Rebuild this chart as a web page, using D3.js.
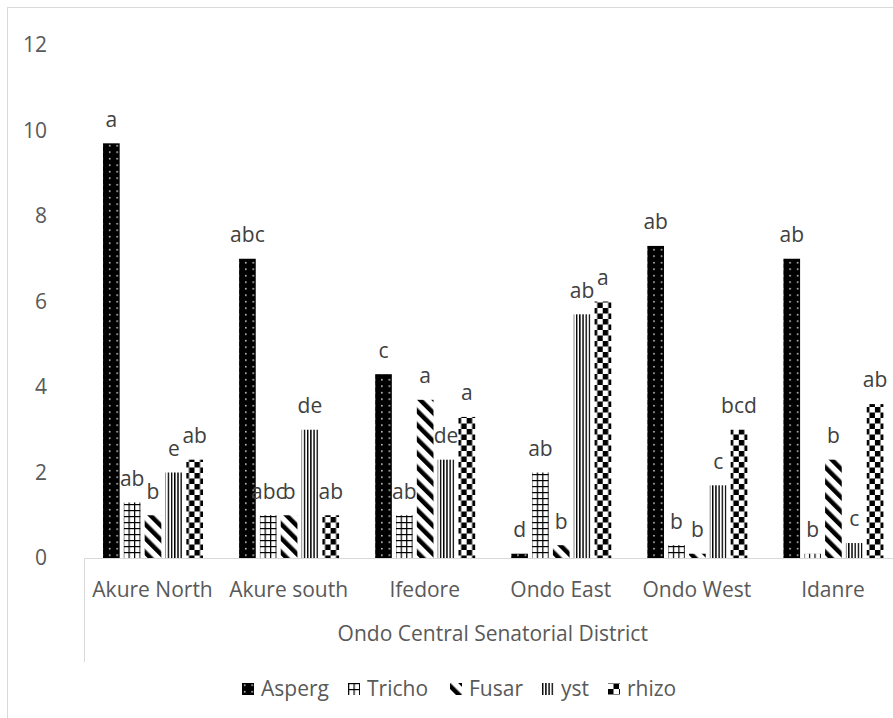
<!DOCTYPE html>
<html><head><meta charset="utf-8">
<script src="https://cdn.jsdelivr.net/npm/d3@7"></script>
<style>body{margin:0;background:#fff}svg{display:block}text{font-family:"Open Sans","Noto Sans",sans-serif}</style>
</head><body>
<script>
const categories = ["Akure North","Akure south","Ifedore","Ondo East","Ondo West","Idanre"];
const groupLabel = "Ondo Central Senatorial District";
const seriesNames = ["Asperg","Tricho","Fusar","yst","rhizo"];
const asperg = [9.7, 7.0, 4.3, 0.1, 7.3, 7.0];
const tricho = [1.3, 1.0, 1.0, 2.0, 0.3, 0.1];
const fusar  = [1.0, 1.0, 3.7, 0.3, 0.1, 2.3];
const yst    = [2.0, 3.0, 2.3, 5.7, 1.7, 0.35];
const rhizo  = [2.3, 1.0, 3.3, 6.0, 3.0, 3.6];
const aspergLbl = ["a","abc","c","d","ab","ab"];
const trichoLbl = ["ab","abc","ab","ab","b","b"];
const fusarLbl  = ["b","b","a","b","b","b"];
const ystLbl    = ["e","de","de","ab","c","c"];
const rhizoLbl  = ["ab","ab","a","a","bcd","ab"];
const yTicks = [0,2,4,6,8,10,12];

const values = [asperg, tricho, fusar, yst, rhizo];
const labels = [aspergLbl, trichoLbl, fusarLbl, ystLbl, rhizoLbl];

const W = 893, H = 718, FS = 21;
const svg = d3.select("body").append("svg").attr("width", W).attr("height", H);
const defs = svg.append("defs");

function pat(id, w, h, draw, transform){
  const p = defs.append("pattern").attr("id", id).attr("patternUnits","userSpaceOnUse")
    .attr("width", w).attr("height", h);
  if (transform) p.attr("patternTransform", transform);
  draw(p);
}
pat("p0", 7.5, 6.5, p => {
  p.append("rect").attr("width",7.5).attr("height",6.5).attr("fill","#000");
  p.append("rect").attr("x",2).attr("y",2).attr("width",1.4).attr("height",1.4).attr("fill","#fff");
});
pat("p1", 5.5, 6, p => {
  p.append("rect").attr("width",5.5).attr("height",6).attr("fill","#fff");
  p.append("rect").attr("x",0).attr("y",0).attr("width",1.2).attr("height",6).attr("fill","#000");
  p.append("rect").attr("x",0).attr("y",0).attr("width",5.5).attr("height",1.2).attr("fill","#000");
});
pat("p2", 10, 10, p => {
  p.append("rect").attr("width",10).attr("height",10).attr("fill","#fff");
  p.append("rect").attr("width",4.5).attr("height",10).attr("fill","#000");
}, "rotate(-45)");
pat("p3", 3.2, 4, p => {
  p.append("rect").attr("width",3.2).attr("height",4).attr("fill","#fff");
  p.append("rect").attr("width",1.4).attr("height",4).attr("fill","#000");
});
pat("p4", 11, 11, p => {
  p.append("rect").attr("width",11).attr("height",11).attr("fill","#fff");
  p.append("rect").attr("width",5.5).attr("height",5.5).attr("fill","#000");
  p.append("rect").attr("x",5.5).attr("y",5.5).attr("width",5.5).attr("height",5.5).attr("fill","#000");
});

svg.append("rect").attr("x",7.5).attr("y",7.5).attr("width",W+20).attr("height",H+20)
  .attr("fill","none").attr("stroke","#d9d9d9").attr("stroke-width",1);

const x0 = d3.scaleBand().domain(categories).range([84.5, 901]).paddingInner(0).paddingOuter(0);
const x1 = d3.scaleBand().domain(seriesNames).range([18.5, 118.5]).paddingInner(0.2).paddingOuter(0);
const y = d3.scaleLinear().domain([0,12]).range([558, 45]);

svg.append("g").selectAll("text").data(yTicks).join("text")
  .attr("x", 47).attr("y", d => y(d)).attr("dy","0.35em").attr("text-anchor","end")
  .attr("font-size", FS).attr("fill","#595959").text(d => d);

const groups = svg.append("g").selectAll("g").data(categories).join("g")
  .attr("transform", d => `translate(${x0(d)},0)`);
groups.each(function(cat, ci){
  const g = d3.select(this);
  seriesNames.forEach((s, si) => {
    const v = values[si][ci];
    g.append("rect").attr("x", x1(s)).attr("width", x1.bandwidth())
      .attr("y", y(v)).attr("height", y(0) - y(v)).attr("fill", `url(#p${si})`);
    g.append("text").attr("x", x1(s) + x1.bandwidth()/2).attr("y", y(v) - 24)
      .attr("dy","0.35em").attr("text-anchor","middle").attr("font-size",FS)
      .attr("fill","#404040").text(labels[si][ci]);
  });
});

svg.append("line").attr("x1",84.5).attr("x2",W).attr("y1",558.5).attr("y2",558.5)
  .attr("stroke","#d9d9d9").attr("stroke-width",1);
svg.append("line").attr("x1",84.5).attr("x2",84.5).attr("y1",558.5).attr("y2",662)
  .attr("stroke","#d9d9d9").attr("stroke-width",1);

svg.append("g").selectAll("text").data(categories).join("text")
  .attr("x", d => x0(d) + x0.bandwidth()/2).attr("y", 590).attr("dy","0.35em")
  .attr("text-anchor","middle").attr("font-size",FS).attr("fill","#595959").text(d => d);
const [r0, r1] = x0.range();
svg.append("text").attr("x", (r0 + r1)/2).attr("y", 634).attr("dy","0.35em")
  .attr("text-anchor","middle").attr("font-size",FS).attr("fill","#595959").text(groupLabel);

const legX = [242, 348, 450, 542, 608];
const leg = svg.append("g").selectAll("g").data(seriesNames).join("g")
  .attr("transform", (d,i) => `translate(${legX[i]},689)`);
leg.append("rect").attr("x",0).attr("y",-6).attr("width",12).attr("height",12)
  .attr("fill", (d,i) => `url(#p${i})`);
leg.append("text").attr("x",19).attr("y",0).attr("dy","0.35em").attr("font-size",FS)
  .attr("fill","#595959").text(d => d);
</script>
</body></html>
